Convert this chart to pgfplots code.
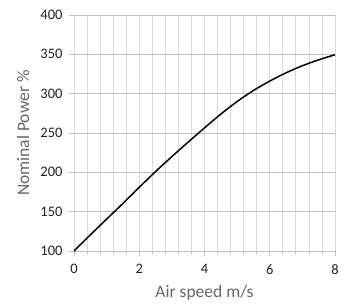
\documentclass[border=0pt]{standalone}
\usepackage{fontspec}
\setmainfont{Carlito}
\usepackage{pgfplots}
\pgfplotsset{compat=1.18}
\definecolor{hgrid}{HTML}{BFBFBF}
\definecolor{vgrid}{HTML}{D9D9D9}
\definecolor{ticktext}{HTML}{222222}
\definecolor{labeltext}{HTML}{666666}
\begin{document}
\begin{tikzpicture}
\begin{axis}[
  scale only axis, width=261pt, height=236pt,
  xmin=0, xmax=8, ymin=100, ymax=400,
  xtick={0,2,4,6,8},
  ytick={100,150,200,250,300,350,400},
  minor xtick={0,0.4,0.8,1.2,1.6,2,2.4,2.8,3.2,3.6,4,4.4,4.8,5.2,5.6,6,6.4,6.8,7.2,7.6,8},
  xminorgrids=true, ymajorgrids=true,
  minor grid style={vgrid, line width=0.8pt},
  major grid style={hgrid, line width=0.8pt},
  axis line style={draw=none},
  tick align=outside,
  xtick pos=left, ytick pos=left,
  major tick length=5pt, minor tick length=3pt,
  every tick/.style={hgrid, line width=0.8pt},
  /pgf/number format/assume math mode=true,
  tick label style={font=\fontsize{14.5}{16}\selectfont, text=ticktext},
  xlabel={Air speed m/s}, ylabel={Nominal Power \%},
  label style={font=\fontsize{17.5}{20}\selectfont, text=labeltext},
  xlabel style={at={(axis description cs:0.5,-0.178)}, anchor=center},
  ylabel style={at={(axis description cs:-0.195,0.5)}, anchor=center},
  yticklabel style={xshift=-3pt},
  xticklabel style={yshift=-5pt},
]
\addplot[black, line width=1.5pt, smooth] coordinates {
(0,100) (0.5,120.5) (1,140.5) (1.5,160.5) (2,181) (2.5,201) (3,220) (3.5,238.5)
(4,256.5) (4.5,274) (5,290) (5.5,304) (6,316) (6.5,326.5) (7,335.5) (7.5,343) (8,349.5)
};
\end{axis}
\pgfresetboundingbox
\path ([xshift=-74pt,yshift=-56pt]current axis.south west) rectangle ([xshift=17pt,yshift=15pt]current axis.north east);
\end{tikzpicture}
\end{document}
